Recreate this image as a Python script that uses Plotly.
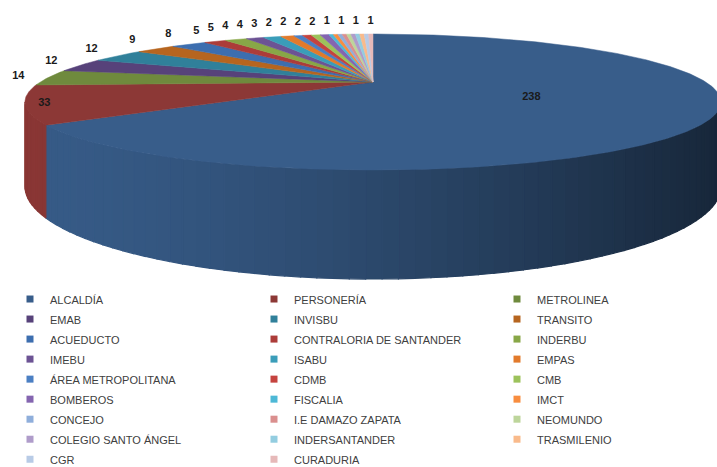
import numpy as np
import plotly.graph_objects as go

# ---------------- data ----------------
categories = [
    "ALCALDÍA", "PERSONERÍA", "METROLINEA",
    "EMAB", "INVISBU", "TRANSITO",
    "ACUEDUCTO", "CONTRALORIA DE SANTANDER", "INDERBU",
    "IMEBU", "ISABU", "EMPAS",
    "ÁREA METROPOLITANA", "CDMB", "CMB",
    "BOMBEROS", "FISCALIA", "IMCT",
    "CONCEJO", "I.E DAMAZO ZAPATA", "NEOMUNDO",
    "COLEGIO SANTO ÁNGEL", "INDERSANTANDER", "TRASMILENIO",
    "CGR", "CURADURIA",
]
values = [238, 33, 14, 12, 12, 9, 8, 5, 5, 4, 4, 3, 2, 2, 2, 2,
          1, 1, 1, 1, 1, 1, 1, 1, 1, 1]
# data labels as they appear in the picture ("" = label hidden by overlap)
data_labels = ["238", "33", "14", "12", "12", "9", "8", "5", "5", "4", "4", "3",
               "2", "2", "2", "2", "", "", "1", "", "1", "", "1", "", "", "1"]
colors = [
    "#385D8A", "#8C3836", "#6F8A3D",
    "#57427A", "#30809A", "#B6651F",
    "#3D6EAF", "#AC3C39", "#88A747",
    "#6C5394", "#3A9DB9", "#E27A2B",
    "#4B7FC3", "#C5433F", "#9CC25B",
    "#8465B0", "#4DB8D6", "#F88D3F",
    "#8FAEDB", "#DA8F8E", "#BDD59B",
    "#AF9CCA", "#93CDE0", "#F9BA8B",
    "#B8CBE6", "#E6B9B9",
]

# ---------------- 3D pie projection parameters ----------------
CX, CY0 = 373.0, 82.0     # projected centre of the top face
SX = 332.7                 # horizontal scale
E = 0.294                  # perspective factor
C1 = -38.0                 # vertical scale of the disc
DEPTH = 77.0               # thickness of the pie


def proj(theta_deg, r=1.0, down=0.0):
    t = np.radians(theta_deg)
    X = r * np.sin(t)
    Y = r * np.cos(t)
    d = 1 + E * Y
    return CX + SX * X / d, (CY0 + C1 * Y + down) / d


def shade(hexcol, f):
    h = hexcol.lstrip("#")
    r, g, b = (int(h[i:i + 2], 16) for i in (0, 2, 4))
    return "rgb(%d,%d,%d)" % (r * f, g * f, b * f)


total = float(sum(values))
bounds = np.concatenate([[0], np.cumsum(values)]) / total * 360.0

fig = go.Figure()

# ---- side wall (front half only) ----
th0 = np.degrees(np.arccos(-E))
vis_a, vis_b = th0, 360 - th0
xl, _ = proj(vis_b)
xr, _ = proj(vis_a)
for i, c in enumerate(colors):
    a, b = max(bounds[i], vis_a), min(bounds[i + 1], vis_b)
    if b <= a:
        continue
    n = max(1, int(np.ceil((b - a) / 2.0)))
    edges = np.linspace(a, b, n + 1)
    for k in range(n):
        ts = np.linspace(edges[k], edges[k + 1], 4)
        tx, ty = proj(ts)
        bx, by = proj(ts[::-1], down=DEPTH)
        mx, _ = proj((edges[k] + edges[k + 1]) / 2)
        t = (mx - xl) / (xr - xl)
        f = 0.98 - 0.56 * t ** 1.5
        col = shade(c, f)
        fig.add_trace(go.Scatter(
            x=np.concatenate([tx, bx, tx[:1]]), y=np.concatenate([ty, by, ty[:1]]),
            mode="lines", fill="toself", fillcolor=col,
            line=dict(color=col, width=1.2), hoverinfo="skip", showlegend=False))

# ---- top face slices ----
for i, c in enumerate(colors):
    a, b = bounds[i], bounds[i + 1]
    ts = np.linspace(a, b, max(2, int(np.ceil((b - a) / 0.5)) + 1))
    ax, ay = proj(ts)
    fig.add_trace(go.Scatter(
        x=np.concatenate([[CX], ax, [CX]]), y=np.concatenate([[CY0], ay, [CY0]]),
        mode="lines", fill="toself", fillcolor=c, line=dict(color=c, width=0.5),
        name=categories[i], hovertemplate=categories[i] + ": " + str(values[i]) + "<extra></extra>",
        showlegend=False))

# ---- data labels ----
lab_x, lab_y, lab_t = [], [], []
mids = (bounds[:-1] + bounds[1:]) / 2
frac = np.array(values) / total
outside = []
for i in range(len(values)):
    if not data_labels[i]:
        continue
    if frac[i] > 0.5:
        x, y = proj(mids[i], r=0.5)
        lab_x.append(x); lab_y.append(y); lab_t.append(data_labels[i])
    elif frac[i] > 0.05:
        x, y = proj(mids[i], r=0.95)
        lab_x.append(x); lab_y.append(y); lab_t.append(data_labels[i])
    else:
        t = np.radians(mids[i])
        x, y = proj(mids[i])
        x += 30 * np.sin(t)
        y -= 13 * np.cos(t)
        outside.append([x, y, data_labels[i]])
# push outside labels leftwards so they do not overlap (sweep from the right)
prev = None
for item in reversed(outside):
    if prev is not None:
        item[0] = min(item[0], prev - 14.5)
    prev = item[0]
for x, y, t in outside:
    lab_x.append(x); lab_y.append(y); lab_t.append(t)

fig.add_trace(go.Scatter(
    x=lab_x, y=lab_y, text=["<b>%s</b>" % t for t in lab_t], mode="text",
    textfont=dict(family="Liberation Sans, Arial", size=11, color="#1a1a1a"),
    hoverinfo="skip", showlegend=False))

# ---- legend entries: three column legends ----
legend_ids = ["legend", "legend2", "legend3"]
for i, cat in enumerate(categories):
    fig.add_trace(go.Scatter(
        x=[None], y=[None], mode="markers",
        name='<span style="font-size:11px">%s</span>' % cat,
        marker=dict(symbol="square", size=7, color=colors[i]),
        legend=legend_ids[i % 3], showlegend=True))

legend_style = dict(
    orientation="v", xanchor="left", yanchor="top", y=1 - 284 / 467,
    font=dict(family="Liberation Sans, Arial", size=13.1, color="#404040"),
    bgcolor="rgba(0,0,0,0)", itemclick=False, itemdoubleclick=False,
    tracegroupgap=0,
)
col_text_x = [50, 294, 537]

fig.update_layout(
    width=717, height=467,
    margin=dict(l=0, r=0, t=0, b=0, autoexpand=False),
    paper_bgcolor="white", plot_bgcolor="white",
    xaxis=dict(range=[0, 717], visible=False, fixedrange=True),
    yaxis=dict(range=[467, 0], visible=False, fixedrange=True),
    legend=dict(legend_style, x=(col_text_x[0] - 40) / 717),
    legend2=dict(legend_style, x=(col_text_x[1] - 40) / 717),
    legend3=dict(legend_style, x=(col_text_x[2] - 40) / 717),
)

fig.write_html("out.html", config={"displayModeBar": False},
               post_script="document.body.style.margin='0';")
